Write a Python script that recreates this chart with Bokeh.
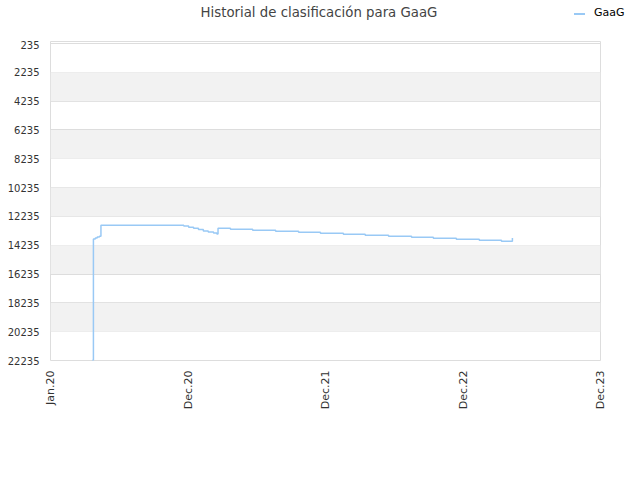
from datetime import datetime
import numpy as np
from bokeh.plotting import figure
from bokeh.layouts import column
from bokeh.models import Range1d, FixedTicker, BoxAnnotation, ColumnDataSource, Div
from bokeh.embed import file_html
from bokeh.resources import INLINE

# ---- data ----
title_text = "Historial de clasificación para GaaG"
series_name = "GaaG"
dates = ["2020-03-20", "2020-03-24", "2020-03-29", "2020-04-03", "2020-04-09",
         "2020-04-13", "2020-11-19", "2020-12-02", "2020-12-15", "2020-12-28",
         "2021-01-10", "2021-01-23", "2021-02-06", "2021-02-15", "2021-02-18",
         "2021-03-23", "2021-05-21", "2021-07-21", "2021-09-20", "2021-11-17",
         "2022-01-17", "2022-03-16", "2022-05-17", "2022-07-17", "2022-09-13",
         "2022-11-13", "2023-01-13", "2023-03-13", "2023-04-11"]
ranks = [22235, 13797, 13727, 13658, 13616,
         12852, 12895, 12991, 13061, 13151,
         13241, 13311, 13380, 13450, 13061,
         13130, 13200, 13269, 13339, 13408,
         13478, 13547, 13617, 13686, 13755,
         13825, 13894, 13964, 13728]
y_ticks = [235, 2235, 4235, 6235, 8235, 10235, 12235, 14235, 16235, 18235, 20235, 22235]
x_tick_dates = ["2019-12-01", "2020-12-01", "2021-12-01", "2022-12-01", "2023-12-01"]
x_tick_labels = ["Jan.20", "Dec.20", "Dec.21", "Dec.22", "Dec.23"]

LINE_COLOR = "#99c9f5"

def ms(s):
    return datetime.strptime(s, "%Y-%m-%d").timestamp() * 1000.0

n = min(len(dates), len(ranks))
x_vals = [ms(d) for d in dates[:n]]
y_vals = ranks[:n]
x_ticks = [ms(d) for d in x_tick_dates]

# ---- header: title and legend as HTML text ----
HEADER_H = 40
header_html = (
    '<div style="position:relative;width:640px;height:%dpx;margin:0;padding:0;'
    'font-family:\'DejaVu Sans\';overflow:visible;">'
    '<span style="position:absolute;left:0;top:5px;width:638px;text-align:center;'
    'font-size:13.3px;line-height:16px;color:#444444;white-space:nowrap;">%s</span>'
    '<span style="position:absolute;left:574px;top:13px;width:11px;height:2px;'
    'background:%s;"></span>'
    '<span style="position:absolute;left:594px;top:6px;font-size:11px;line-height:13px;'
    'color:#000000;white-space:nowrap;">%s</span>'
    '</div>' % (HEADER_H, title_text, LINE_COLOR, series_name)
)
header = Div(text=header_html, width=640, height=HEADER_H,
             styles={"margin": "0", "padding": "0"})

# ---- main plot ----
p = figure(width=640, height=480 - HEADER_H, x_axis_type="datetime",
           output_backend="svg", toolbar_location=None,
           x_range=Range1d(x_ticks[0], x_ticks[-1]),
           y_range=Range1d(22235, 96),
           min_border_left=50, min_border_right=40, min_border_top=1,
           min_border_bottom=120)

p.outline_line_color = "#dddddd"
p.background_fill_color = "white"
p.border_fill_color = "white"

for i in range(len(y_ticks) - 1):
    if i % 2 == 1:
        p.add_layout(BoxAnnotation(bottom=y_ticks[i], top=y_ticks[i + 1],
                                   fill_color="#f2f2f2", fill_alpha=1.0,
                                   line_alpha=0, level="underlay"))

p.xgrid.grid_line_color = None
p.ygrid.grid_line_color = "#dddddd"
p.ygrid.ticker = FixedTicker(ticks=y_ticks)

p.yaxis.ticker = FixedTicker(ticks=y_ticks)
p.xaxis.ticker = FixedTicker(ticks=x_ticks)
p.xaxis.major_label_overrides = {t: l for t, l in zip(x_ticks, x_tick_labels)}
p.xaxis.major_label_orientation = np.pi / 2

for ax in (p.xaxis, p.yaxis):
    ax.axis_line_color = None
    ax.major_tick_line_color = None
    ax.minor_tick_line_color = None
    ax.major_tick_out = 0
    ax.major_tick_in = 0
    ax.major_label_text_font = "DejaVu Sans"
    ax.major_label_text_color = "#333333"
p.xaxis.major_label_text_font_size = "11px"
p.yaxis.major_label_text_font_size = "10px"
p.yaxis.major_label_standoff = 11
p.xaxis.major_label_standoff = 10

src = ColumnDataSource(dict(x=x_vals, y=y_vals))
p.step("x", "y", source=src, mode="after", line_color=LINE_COLOR, line_width=1.5)

layout = column(header, p, spacing=0)
open("out.html", "w").write(file_html(layout, INLINE))
